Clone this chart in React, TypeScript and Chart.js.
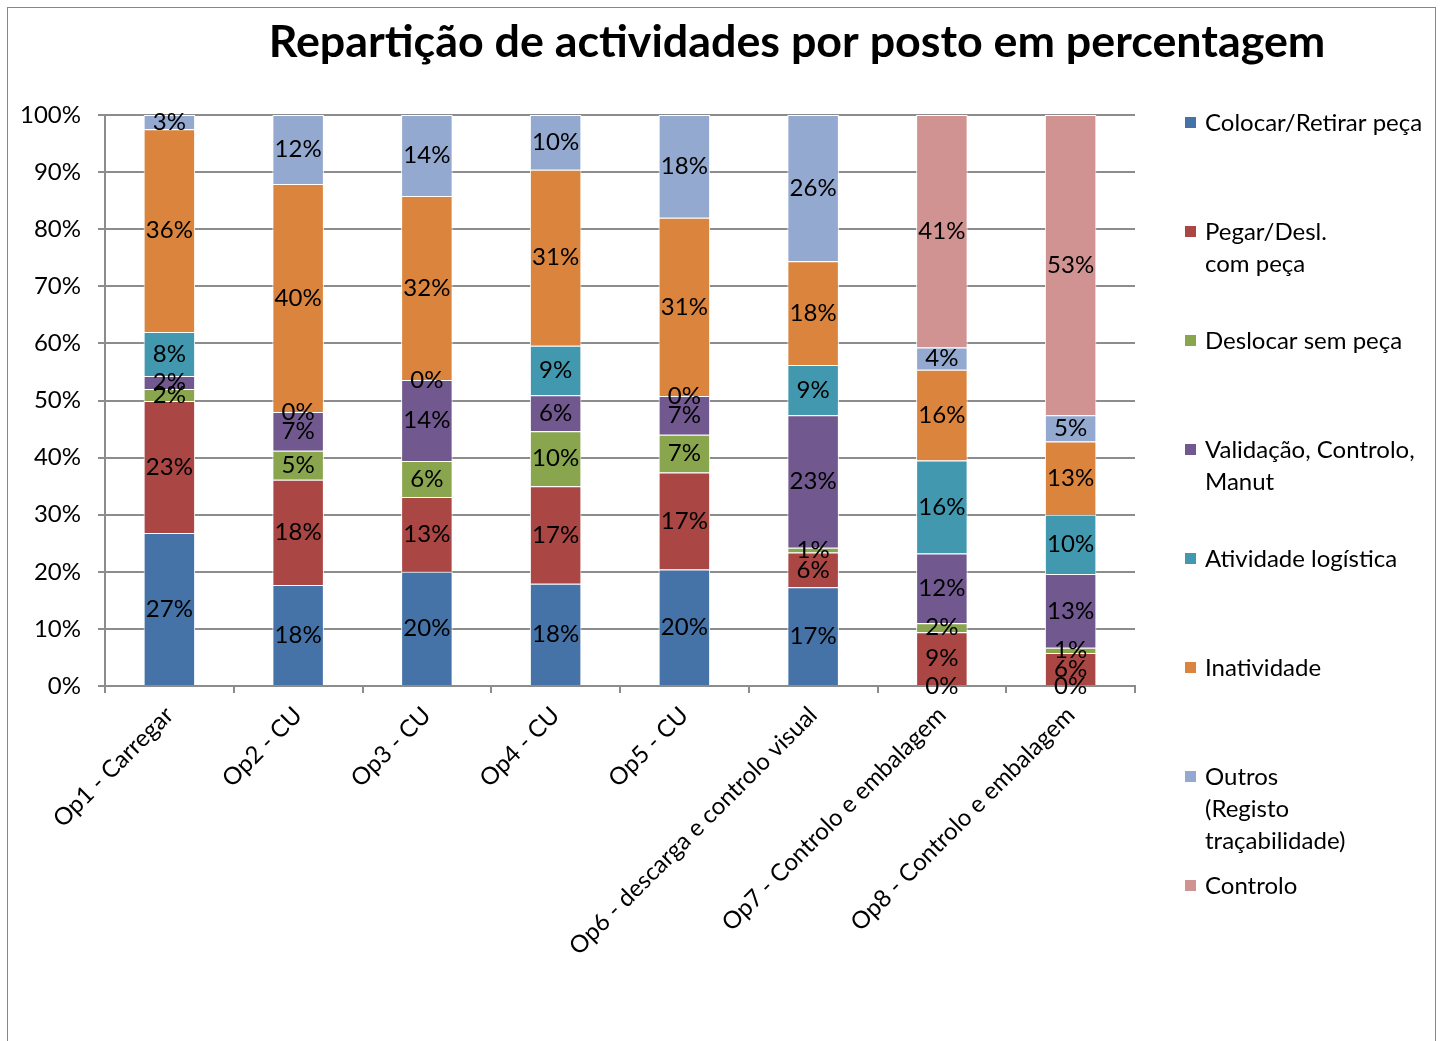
import React, { useEffect, useRef } from 'react';
import { Chart, registerables } from 'chart.js';

Chart.register(...registerables);

const categories = [
  'Op1 - Carregar',
  'Op2 - CU',
  'Op3 - CU',
  'Op4 - CU',
  'Op5 - CU',
  'Op6 - descarga e controlo visual',
  'Op7 - Controlo e embalagem',
  'Op8 - Controlo e embalagem',
];

const colocar = [26.8, 17.7, 20.0, 17.9, 20.4, 17.3, 0, 0];
const pegar = [23.1, 18.4, 13.1, 17.1, 17.0, 6.1, 9.4, 5.8];
const deslocar = [2.1, 5.1, 6.3, 9.6, 6.6, 0.8, 1.6, 0.9];
const validacao = [2.3, 6.8, 14.2, 6.3, 6.8, 23.2, 12.2, 12.9];
const logistica = [7.7, 0, 0, 8.7, 0, 8.8, 16.3, 10.4];
const inatividade = [35.5, 39.9, 32.2, 30.8, 31.2, 18.2, 15.9, 12.8];
const outros = [2.5, 12.1, 14.2, 9.6, 18.0, 25.6, 3.9, 4.6];
const controlo = [null, null, null, null, null, null, 40.7, 52.6];

const seriesLabels = [
  ['Colocar/Retirar peça'],
  ['Pegar/Desl.', 'com peça'],
  ['Deslocar sem peça'],
  ['Validação, Controlo,', 'Manut'],
  ['Atividade logística'],
  ['Inatividade'],
  ['Outros', '(Registo', 'traçabilidade)'],
  ['Controlo'],
];

const seriesValues = [colocar, pegar, deslocar, validacao, logistica, inatividade, outros, controlo];

const seriesColors = ['#4572A7', '#AA4643', '#89A54E', '#71588F', '#4198AF', '#DB843D', '#93A9CF', '#D19392'];

const yTicks = [0, 10, 20, 30, 40, 50, 60, 70, 80, 90, 100];

const TITLE = 'Repartição de actividades por posto em percentagem';
const FONT = 'Lato';
const GRID = '#8c8c8c';
const TXT = 24;

const titlePlugin = {
  id: 'customTitle',
  afterDraw(chart: any) {
    const ctx = chart.ctx;
    ctx.save();
    let size = 44;
    ctx.font = `bold ${size}px ${FONT}`;
    const w = ctx.measureText(TITLE).width;
    size = size * 1057 / w;
    ctx.font = `bold ${size}px ${FONT}`;
    ctx.fillStyle = '#000';
    ctx.textAlign = 'center';
    ctx.textBaseline = 'middle';
    ctx.fillText(TITLE, 797, 43);
    ctx.restore();
  },
};

const legendPlugin = {
  id: 'sideLegend',
  afterDraw(chart: any) {
    const ctx = chart.ctx;
    ctx.save();
    ctx.font = `${TXT}px ${FONT}`;
    ctx.textBaseline = 'middle';
    ctx.textAlign = 'left';
    seriesLabels.forEach((lines, i) => {
      const y0 = 123 + i * 109;
      ctx.fillStyle = seriesColors[i];
      ctx.fillRect(1185, y0 - 6, 11, 11);
      ctx.fillStyle = '#000';
      lines.forEach((ln, j) => ctx.fillText(ln, 1205, y0 + j * 32));
    });
    ctx.restore();
  },
};

const dataLabelPlugin = {
  id: 'segLabels',
  afterDatasetsDraw(chart: any) {
    const ctx = chart.ctx;
    ctx.save();
    ctx.font = `${TXT}px ${FONT}`;
    ctx.fillStyle = '#000';
    ctx.textAlign = 'center';
    ctx.textBaseline = 'middle';
    chart.data.datasets.forEach((ds: any, di: number) => {
      const meta = chart.getDatasetMeta(di);
      meta.data.forEach((el: any, i: number) => {
        const v = ds.data[i];
        if (v === null || v === undefined) return;
        const y = (el.y + el.base) / 2;
        ctx.fillText(Math.round(v) + '%', el.x, y);
      });
    });
    ctx.restore();
  },
};

export default function App() {
  const ref = useRef<HTMLCanvasElement>(null);

  useEffect(() => {
    if (!ref.current) return;
    const chart = new Chart(ref.current, {
      type: 'bar',
      data: {
        labels: categories,
        datasets: seriesValues.map((vals, i) => ({
          label: seriesLabels[i].join(' '),
          data: vals as any,
          backgroundColor: seriesColors[i],
          borderColor: '#ffffff',
          borderWidth: 1,
          categoryPercentage: 1,
          barPercentage: 0.4,
        })),
      },
      options: {
        responsive: false,
        animation: false,
        layout: { padding: { top: 115, right: 308, left: 0, bottom: 0 } },
        plugins: {
          legend: { display: false },
          title: { display: false },
          tooltip: { enabled: false },
        },
        scales: {
          x: {
            stacked: true,
            grid: {
              display: true,
              drawOnChartArea: false,
              drawTicks: true,
              tickLength: 7,
              offset: true,
              color: GRID,
              lineWidth: 2,
            },
            border: { color: GRID, width: 2 },
            ticks: {
              autoSkip: false,
              maxRotation: 45,
              minRotation: 45,
              color: '#000',
              font: { family: FONT, size: TXT },
              padding: 8,
            },
            afterFit: (s: any) => { s.height = 1041 - 686; },
          },
          y: {
            stacked: true,
            min: 0,
            max: 100,
            afterBuildTicks: (s: any) => { s.ticks = yTicks.map((v) => ({ value: v })); },
            ticks: {
              color: '#000',
              font: { family: FONT, size: TXT },
              padding: 17,
              callback: (v: any) => v + '%',
            },
            grid: { color: GRID, lineWidth: 2, tickLength: 7 },
            border: { color: GRID, width: 2 },
            afterFit: (s: any) => { s.width = 105; },
          },
        },
      },
      plugins: [dataLabelPlugin, legendPlugin, titlePlugin],
    });
    return () => chart.destroy();
  }, []);

  return (
    <div style={{ position: 'fixed', left: 0, top: 0, width: 1443, height: 1041, overflow: 'hidden', background: '#fff' }}>
      <canvas ref={ref} width={1443} height={1041} style={{ position: 'absolute', left: 0, top: 0 }} />
      <div
        style={{
          position: 'absolute',
          left: 7,
          top: 7,
          width: 1429,
          height: 1040,
          borderLeft: '1px solid #878787',
          borderTop: '1px solid #878787',
          borderRight: '1px solid #878787',
          boxSizing: 'border-box',
          pointerEvents: 'none',
        }}
      />
    </div>
  );
}
